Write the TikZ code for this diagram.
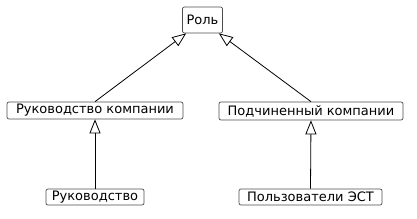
\documentclass[tikz,border=0pt]{standalone}
\usepackage{fontspec}
\setmainfont{DejaVu Sans}
\usetikzlibrary{arrows.meta}
\begin{document}
\begin{tikzpicture}[x=1pt,y=-1pt,
  box/.style={draw=black!70, rounded corners=2pt, line width=0.7pt, inner sep=0pt, font=\fontsize{13}{15}\selectfont, anchor=center},
  inh/.style={-{Triangle[open,width=11pt,length=14pt]}, line width=0.8pt}]
\useasboundingbox (0,0) rectangle (417,218);
\node[box, minimum width=40pt, minimum height=26pt] (r) at (202.5,20) {Роль};
\node[box, minimum width=176pt, minimum height=17pt] (rk) at (95,110.5) {Руководство компании};
\node[box, minimum width=184pt, minimum height=18pt] (pk) at (311,111) {Подчиненный компании};
\node[box, minimum width=98pt, minimum height=16pt] (rv) at (95,197) {Руководство};
\node[box, minimum width=143pt, minimum height=16pt] (pu) at (310.5,197) {Пользователи ЭСТ};
\coordinate (rl) at ([xshift=4pt]r.south west);
\coordinate (rr) at ([xshift=-4pt]r.south east);
\draw[inh] (rk.north) -- (rl);
\draw[inh] (pk.north) -- (rr);
\draw[inh] (rv.north) -- (rk.south);
\draw[inh] (pu.north) -- (pk.south);
\end{tikzpicture}
\end{document}
